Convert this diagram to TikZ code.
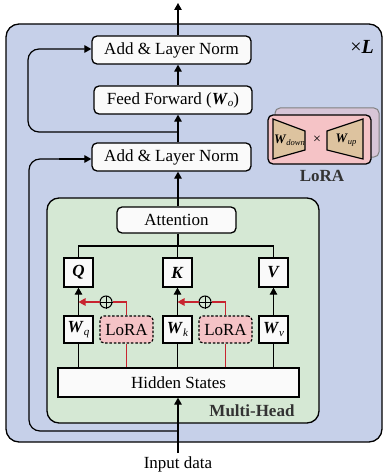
\documentclass[tikz,border=0pt]{standalone}
\usepackage{fontspec}
\setmainfont{Liberation Serif}
\usetikzlibrary{arrows.meta,calc}
\definecolor{bgblue}{HTML}{C6D0E9}
\definecolor{mhgreen}{HTML}{D5E8D4}
\definecolor{lorapink}{HTML}{F5C3C6}
\definecolor{backpink}{HTML}{DCC3D3}
\definecolor{tan}{HTML}{DDC39F}
\definecolor{redl}{HTML}{C8242F}
\definecolor{boxw}{HTML}{FAFAFA}
\newcommand{\Wsub}[1]{\textbf{\textit{W}}\raisebox{-0.35ex}{\fontsize{11}{11}\selectfont\textit{#1}}}
\tikzset{
  fnt/.style={font=\fontsize{17}{20}\selectfont},
  rbox/.style={draw, line width=1.3pt, fill=boxw, rounded corners=5pt, inner sep=0pt, fnt},
  sbox/.style={draw, line width=1.3pt, fill=boxw, inner sep=0pt, fnt},
  lbox/.style={draw, line width=1.2pt, dashed, dash pattern=on 2.5pt off 1.8pt, fill=lorapink, rounded corners=4pt, inner sep=0pt, fnt},
  ln/.style={line width=1.2pt},
  arr/.style={line width=1.2pt, -{Triangle[length=7pt,width=7.5pt]}},
  rln/.style={line width=1.2pt, draw=redl},
  rarr/.style={line width=1.2pt, draw=redl, -{Triangle[length=7pt,width=7.5pt]}, redl},
}
\begin{document}
\begin{tikzpicture}[x=1pt,y=-1pt]
\useasboundingbox (0,0) rectangle (383,476);
% outer block
\draw[line width=1.3pt, fill=bgblue, rounded corners=13pt] (6,24) rectangle (382,442);
\coordinate (vx) at (178,0);
% top nodes
\node[rbox, minimum width=159pt, minimum height=28pt] (an1) at (171.5,50) {Add \& Layer Norm};
\node[rbox, minimum width=158pt, minimum height=28pt] (ff) at (173,100) {Feed Forward (\Wsub{o})};
\node[rbox, minimum width=159pt, minimum height=28pt] (an2) at (171.5,157) {Add \& Layer Norm};
\node[fnt, font=\fontsize{20}{22}\selectfont] (xl) at (362,47) {×\textbf{\textit{L}}};
% LoRA illustration
\draw[line width=1pt, draw=gray, fill=backpink, fill opacity=0.8, rounded corners=5pt] (275,108) rectangle (379,157);
\draw[line width=1.3pt, fill=lorapink, rounded corners=5pt] (268,115) rectangle (371,164);
\draw[line width=1.2pt, fill=tan] (273,119) -- (305,131) -- (305,150) -- (273,159) -- cycle;
\draw[line width=1.2pt, fill=tan] (327,131) -- (363,119) -- (363,159) -- (327,150) -- cycle;
\node[font=\fontsize{13}{14}\selectfont, inner sep=0] (wd) at (289.5,140) {\textbf{\textit{W}}\raisebox{-0.3ex}{\fontsize{8.5}{9}\selectfont\textit{down}}};
\node[font=\fontsize{14}{14}\selectfont, inner sep=0] (tm) at (317,140) {×};
\node[font=\fontsize{13}{14}\selectfont, inner sep=0] (wu) at (346,140) {\textbf{\textit{W}}\raisebox{-0.3ex}{\fontsize{8.5}{9}\selectfont\textit{up}}};
\node[fnt, font=\fontsize{17}{20}\selectfont\bfseries, text=black!80] (loralbl) at (322,176) {LoRA};
% multi-head block
\draw[line width=1.3pt, fill=mhgreen, rounded corners=12pt] (47,198) rectangle (319,423);
\node[fnt, font=\fontsize{17}{20}\selectfont\bfseries, text=black!80, anchor=east] (mhl) at (298,411) {Multi-Head};
\node[rbox, minimum width=119pt, minimum height=26pt] (att) at (176.5,220) {Attention};
\node[sbox, minimum width=29pt, minimum height=29pt] (q) at (78.5,272.5) {\textbf{\textit{Q}}};
\node[sbox, minimum width=29pt, minimum height=29pt] (k) at (177.5,272.5) {\textbf{\textit{K}}};
\node[sbox, minimum width=29pt, minimum height=29pt] (v) at (273.5,272.5) {\textbf{\textit{V}}};
\node[sbox, minimum width=29pt, minimum height=27pt] (wq) at (78.5,329.5) {\Wsub{q}};
\node[lbox, minimum width=53pt, minimum height=27pt] (l1) at (126.5,329.5) {LoRA};
\node[sbox, minimum width=29pt, minimum height=27pt] (wk) at (177.5,329.5) {\Wsub{k}};
\node[lbox, minimum width=53pt, minimum height=27pt] (l2) at (225.5,329.5) {LoRA};
\node[sbox, minimum width=29pt, minimum height=27pt] (wv) at (273.5,329.5) {\Wsub{v}};
\node[sbox, minimum width=241pt, minimum height=29pt] (hs) at (178.5,382.5) {Hidden States};
\node[fnt] (inp) at (178,464) {Input data};
\coordinate (inb) at (178,453);
% oplus
\node[circle, draw, line width=1pt, fill=mhgreen, minimum size=12pt, inner sep=0] (p1) at (106,302) {};
\draw[line width=1pt] (p1.north) -- (p1.south) (p1.west) -- (p1.east);
\node[circle, draw, line width=1pt, fill=mhgreen, minimum size=12pt, inner sep=0] (p2) at (205,302) {};
\draw[line width=1pt] (p2.north) -- (p2.south) (p2.west) -- (p2.east);
% connectors: main
\draw[arr] (an1.north -| vx) -- (178,3);
\draw[arr] (ff.north -| vx) -- (an1.south -| vx);
\draw[arr] (an2.north -| vx) -- (ff.south -| vx);
\draw[arr] (att.north -| vx) -- (an2.south -| vx);
\draw[arr] (inb) -- (hs.south -| inb);
% residual loops
\draw[arr, rounded corners=11pt] (178,132) -- (28,132) -- (28,49) -- (an1.west |- 0,49);
\draw[ln, rounded corners=11pt] (178,431) -- (29,431) -- (29,159) -- (60,159);
\draw[arr] (59,159) -- (an2.west |- 0,159);
% attention fan
\draw[ln] (att.south -| vx) -- (178,246);
\draw[ln] (q.north) -- (q.north |- 0,246) -- (v.north |- 0,246) -- (v.north);
\draw[ln] (k.north) -- (k.north |- 0,246);
% W to QKV
\draw[arr] (wq.north) -- (q.south);
\draw[arr] (wk.north) -- (k.south);
\draw[arr] (wv.north) -- (v.south);
% hidden to W
\draw[ln] (hs.north -| wq.south) -- (wq.south);
\draw[ln] (hs.north -| wk.south) -- (wk.south);
\draw[ln] (hs.north -| wv.south) -- (wv.south);
% red LoRA paths
\draw[rln] (hs.north -| l1.south) -- (l1.south);
\draw[rln] (hs.north -| l2.south) -- (l2.south);
\draw[rln] (l1.north) |- (p1.east);
\draw[rln] (l2.north) |- (p2.east);
\draw[rarr] (p1.west) -- (wq.north |- p1.west);
\draw[rarr] (p2.west) -- (wk.north |- p2.west);
\end{tikzpicture}
\end{document}
